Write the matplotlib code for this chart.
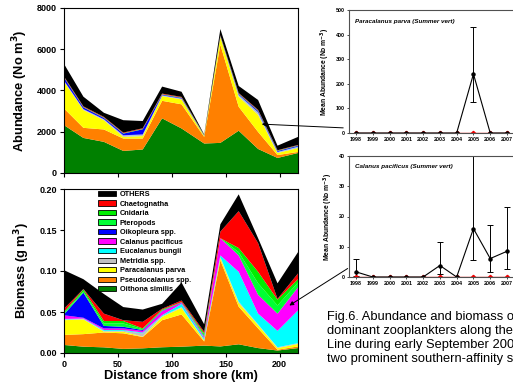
import matplotlib.pyplot as plt
import numpy as np
from matplotlib.patches import Patch

plt.rcParams['font.family'] = ['Liberation Sans', 'DejaVu Sans']
plt.rcParams['mathtext.default'] = 'bf'

# stations along the line (km from shore)
dist = [0, 18, 37, 55, 73, 91, 109, 130, 145, 162, 180, 198, 217]

groups = ['Oithona similis', 'Pseudocalanus spp.', 'Paracalanus parva', 'Metridia spp.',
          'Eucalanus bungii', 'Calanus pacificus', 'Oikopleura spp.', 'Pteropods',
          'Cnidaria', 'Chaetognatha', 'OTHERS']
colors = ['#008000', '#ff8000', '#ffff00', '#c0c0c0', '#00ffff', '#ff00ff',
          '#0000ff', '#00ff33', '#00ee00', '#ff0000', '#000000']

# abundance (No m-3)
ab_oithona = [2320, 1700, 1510, 1070, 1140, 2650, 2160, 1430, 1460, 2050, 1165, 730, 970]
ab_pseudo = [810, 490, 600, 600, 530, 850, 1170, 320, 4760, 1160, 825, 140, 50]
ab_paracal = [1300, 860, 450, 80, 120, 230, 240, 40, 370, 490, 830, 100, 190]
ab_metridia = [30, 30, 30, 60, 60, 20, 20, 10, 10, 60, 100, 40, 40]
ab_eucal = [10, 10, 10, 10, 10, 10, 10, 5, 10, 20, 20, 10, 20]
ab_calanus = [10, 10, 10, 10, 10, 10, 10, 5, 10, 10, 10, 5, 10]
ab_oiko = [150, 80, 60, 80, 250, 30, 30, 10, 10, 40, 60, 40, 40]
ab_ptero = [10, 10, 10, 10, 10, 10, 10, 10, 10, 10, 10, 10, 10]
ab_cnid = [10, 10, 10, 10, 10, 10, 10, 10, 10, 10, 10, 10, 10]
ab_chaeto = [30, 30, 30, 30, 30, 30, 30, 10, 30, 30, 30, 20, 20]
ab_others = [610, 470, 200, 600, 350, 340, 250, 20, 300, 340, 480, 220, 390]

# biomass (g m-3)
bm_oithona = [.0098, .0077, .0069, .005, .0057, .007, .0077, .009, .008, .0106, .006, .003, .006]
bm_pseudo = [.0122, .0153, .0181, .019, .0138, .033, .0393, .005, .105, .0459, .024, .001, .002]
bm_paracal = [.018, .018, .001, .002, .0005, .004, .008, .001, .003, .0045, .004, .002, .003]
bm_metridia = [.001, .0005, .001, .001, .004, .001, .001, .001, .001, .0016, .001, .001, .001]
bm_eucal = [.0005, .0005, .001, .001, .001, .001, .004, .002, .002, .0364, .013, .020, .040]
bm_calanus = [.0045, .001, .002, .002, .002, .005, .001, .002, .021, .020, .023, .021, .028]
bm_oiko = [.001, .0306, .003, .002, .001, .0005, .0005, 0, 0, 0, 0, 0, 0]
bm_ptero = [.002, .0014, .003, .004, .001, .0005, .0005, .002, 0, .004, .014, .010, .006]
bm_cnid = [.001, .0026, .003, .003, .001, .001, 0, .002, 0, .005, .014, .007, .004]
bm_chaeto = [.004, .0004, .009, .001, .008, .001, .002, .002, .008, .045, .035, .001, .007]
bm_others = [.047, .012, .024, .016, .015, .006, .022, .009, .009, .0205, .006, .019, .026]

# time series insets
years = [1998, 1999, 2000, 2001, 2002, 2003, 2004, 2005, 2006, 2007]
pp_mean = [0, 0, 0, 0, 0, 0, 0, 240, 0, 0]
pp_lo = [0, 0, 0, 0, 0, 0, 0, 125, 0, 0]
pp_hi = [0, 0, 0, 0, 0, 0, 0, 430, 0, 0]
cp_mean = [1.7, 0, 0, 0, 0, 3.8, 0, 16, 6.1, 8.5]
cp_lo = [0.3, 0, 0, 0, 0, 1.0, 0, 5.5, 1.7, 2.7]
cp_hi = [6.0, 0, 0, 0, 0, 11.7, 0, 40, 17.3, 23.2]
zero_line = [0, 0, 0, 0, 0, 0, 0, 0, 0, 0]

W, H = 513, 383
fig = plt.figure(figsize=(W / 100, H / 100), dpi=100)


def box(l, t, r, b):
    return [l / W, 1 - b / H, (r - l) / W, (b - t) / H]


def bold_ticks(ax):
    for lab in ax.get_xticklabels() + ax.get_yticklabels():
        lab.set_fontweight('bold')


tick_kw = dict(labelsize=6.5, direction='out', length=3, width=0.8, pad=2)

ax1 = fig.add_axes(box(64, 8, 298, 173))
ax1.stackplot(dist, ab_oithona, ab_pseudo, ab_paracal, ab_metridia, ab_eucal, ab_calanus,
              ab_oiko, ab_ptero, ab_cnid, ab_chaeto, ab_others, colors=colors, linewidth=0)
ax1.set_xlim(0, 217)
ax1.set_ylim(0, 8000)
ax1.set_yticks([0, 2000, 4000, 6000, 8000])
ax1.set_xticks([0, 50, 100, 150, 200])
ax1.set_xticklabels([])
ax1.tick_params(**tick_kw)
bold_ticks(ax1)
ax1.set_ylabel('Abundance (No m$^3$)', fontsize=9.3, fontweight='bold', labelpad=5)

ax2 = fig.add_axes(box(64, 189, 298, 353))
ax2.stackplot(dist, bm_oithona, bm_pseudo, bm_paracal, bm_metridia, bm_eucal, bm_calanus,
              bm_oiko, bm_ptero, bm_cnid, bm_chaeto, bm_others, colors=colors, linewidth=0)
ax2.set_xlim(0, 217)
ax2.set_ylim(0, 0.2)
ax2.set_yticks([0, 0.05, 0.1, 0.15, 0.2])
ax2.set_yticklabels(['0.00', '0.05', '0.10', '0.15', '0.20'])
ax2.set_xticks([0, 50, 100, 150, 200])
ax2.tick_params(**tick_kw)
bold_ticks(ax2)
ax2.set_ylabel('Biomass (g m$^3$)', fontsize=9.3, fontweight='bold', labelpad=5)
ax2.set_xlabel('Distance from shore (km)', fontsize=9.2, fontweight='bold', labelpad=1)

handles = [Patch(facecolor=c, edgecolor='black', linewidth=0.6, label=g)
           for g, c in zip(groups, colors)][::-1]
leg = ax2.legend(handles=handles, loc='upper left', bbox_to_anchor=(0.125, 1.015), frameon=False,
                 fontsize=5.3, handlelength=2.5, handleheight=0.7, labelspacing=0.32,
                 handletextpad=0.5, borderaxespad=0.2)
for t in leg.get_texts():
    t.set_fontweight('bold')

# year axis: 1998 sits at x=356 px and 2007 at x=507 px
px_per_year = (507 - 356) / 9


def inset(top, bottom, mean, lo, hi, ymax, step, title):
    left, right = 349, 517
    ax = fig.add_axes(box(left, top, right, bottom))
    yerr = [np.array(mean) - np.array(lo), np.array(hi) - np.array(mean)]
    ax.errorbar(years, mean, yerr=yerr, color='black', marker='o', markersize=2.2,
                linewidth=0.8, elinewidth=0.7, capsize=2, capthick=0.7)
    ax.plot(years, zero_line, color='#ee0000', marker='D', markersize=2.2, linewidth=1.0)
    ax.set_xlim(1998 - (356 - left) / px_per_year, 2007 + (right - 507) / px_per_year)
    ax.set_ylim(0, ymax)
    ax.set_yticks(np.arange(0, ymax + 1, step))
    ax.set_xticks(years)
    ax.tick_params(labelsize=3.9, direction='out', length=1.5, width=0.5, pad=1.5)
    bold_ticks(ax)
    for s in ax.spines.values():
        s.set_color('#505050')
        s.set_linewidth(0.8)
    ax.set_ylabel('Mean Abundance (No m$^{-3}$)', fontsize=4.9, fontweight='bold', labelpad=2.5)
    ax.text(0.035, 0.93, title, transform=ax.transAxes, fontsize=4.5,
            fontweight='bold', style='italic', va='top')
    return ax


inset(10, 133, pp_mean, pp_lo, pp_hi, 500, 100, 'Paracalanus parva (Summer vert)')
inset(156, 277, cp_mean, cp_lo, cp_hi, 40, 10, 'Calanus pacificus (Summer vert)')

# arrows linking insets to the main panels
plt.annotate('', xy=(259 / W, 1 - 124 / H), xytext=(346 / W, 1 - 128 / H),
             xycoords='figure fraction', textcoords='figure fraction',
             arrowprops=dict(arrowstyle='-|>', color='black', lw=0.7, mutation_scale=6))
plt.annotate('', xy=(287 / W, 1 - 307 / H), xytext=(350 / W, 1 - 267 / H),
             xycoords='figure fraction', textcoords='figure fraction',
             arrowprops=dict(arrowstyle='-|>', color='black', lw=0.7, mutation_scale=6))

caption = ['Fig.6. Abundance and biomass of',
           'dominant zooplankters along the',
           'Line during early September 2007',
           'two prominent southern-affinity spe']
for i, line in enumerate(caption):
    fig.text(327 / W, 1 - (317 + 14 * i) / H, line, fontsize=9.3, fontweight='normal',
             va='center', ha='left')

fig.savefig('out.png', dpi=100)
